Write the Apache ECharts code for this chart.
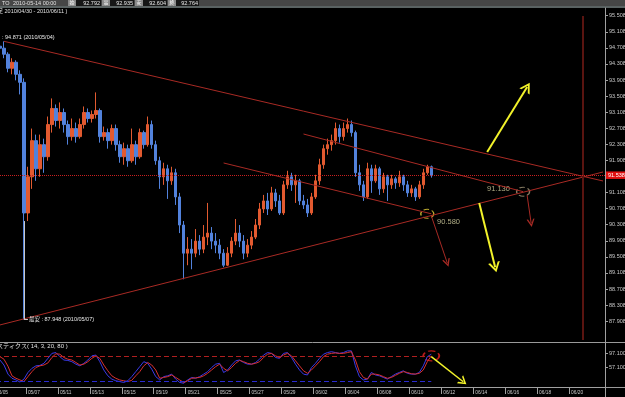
<!DOCTYPE html>
<html>
<head>
<meta charset="utf-8">
<script src="https://cdn.jsdelivr.net/npm/echarts@6/dist/echarts.min.js"></script>
<style>
  html, body { margin: 0; padding: 0; background: #000; }
  #chart { width: 625px; height: 397px; }
</style>
</head>
<body>
<div id="chart"></div>
<script>
// 4 bars per trading day, a date label every 2 days
const BARS_PER_DAY = 4;
const TOTAL_BARS = 153;
const dayLabels = ['05/05', '05/07', '05/11', '05/13', '05/15', '05/19', '05/21', '05/25', '05/27', '05/29',
  '06/02', '06/04', '06/08', '06/10', '06/12', '06/14', '06/16', '06/18', '06/20'];

const priceTicks = [95.508, 95.108, 94.708, 94.308, 93.908, 93.508, 93.108, 92.708, 92.308, 91.908,
  91.508, 91.108, 90.708, 90.308, 89.908, 89.508, 89.108, 88.708, 88.308, 87.908];

const headerLabels = ['始', '高', '安', '終'];
const headerValues = ['92.792', '92.935', '92.604', '92.764'];

// [open, close, low, high]
const ohlc = [
  [94.60, 94.75, 94.52, 94.82], [94.75, 94.70, 94.58, 94.85], [94.70, 94.55, 94.45, 94.87], [94.55, 94.20, 94.10, 94.60],
  [94.20, 94.35, 94.05, 94.45], [94.35, 94.05, 93.90, 94.40], [94.05, 93.85, 93.55, 94.15], [93.85, 90.60, 87.95, 93.95],
  [90.60, 91.50, 90.40, 91.75], [91.50, 92.40, 91.20, 92.70], [92.40, 91.70, 91.40, 92.55], [91.70, 92.30, 91.50, 92.55],
  [92.30, 92.00, 91.60, 92.45], [92.00, 92.80, 91.90, 93.00], [92.80, 93.20, 92.60, 93.45], [93.20, 92.90, 92.75, 93.30],
  [92.90, 93.10, 92.70, 93.35], [93.10, 92.80, 92.60, 93.20], [92.80, 92.50, 92.30, 92.90], [92.50, 92.70, 92.40, 92.95],
  [92.70, 92.50, 92.35, 92.85], [92.50, 92.80, 92.45, 92.95], [92.80, 93.10, 92.70, 93.25], [93.10, 92.95, 92.85, 93.20],
  [92.95, 93.05, 92.85, 93.15], [93.05, 93.15, 92.95, 93.60], [93.15, 92.50, 92.35, 93.20], [92.50, 92.60, 92.40, 92.75],
  [92.60, 92.40, 92.20, 92.70], [92.40, 92.70, 92.30, 92.80], [92.70, 92.30, 92.15, 92.80], [92.30, 92.00, 91.85, 92.40],
  [92.00, 92.20, 91.80, 92.35], [92.20, 91.90, 91.75, 92.30], [91.90, 92.30, 91.85, 92.70], [92.30, 92.00, 91.80, 92.40],
  [92.00, 92.60, 91.95, 92.70], [92.60, 92.30, 92.20, 92.65], [92.30, 92.80, 92.25, 93.00], [92.80, 92.30, 92.20, 92.90],
  [92.30, 91.90, 91.80, 92.40], [91.90, 91.50, 91.20, 92.00], [91.50, 91.70, 91.30, 91.85], [91.70, 91.40, 90.95, 91.80],
  [91.40, 91.60, 91.30, 91.75], [91.60, 91.00, 90.80, 91.70], [91.00, 90.30, 90.10, 91.10], [90.30, 89.60, 88.95, 90.40],
  [89.60, 89.70, 89.30, 90.00], [89.70, 89.60, 89.20, 89.95], [89.60, 89.90, 89.50, 90.20], [89.90, 89.70, 89.55, 90.05],
  [89.70, 90.00, 89.60, 90.30], [90.00, 90.10, 89.80, 90.85], [90.10, 89.90, 89.70, 90.25], [89.90, 89.80, 89.60, 90.10],
  [89.80, 89.60, 89.45, 89.95], [89.60, 89.30, 89.25, 89.70], [89.30, 89.60, 89.28, 89.75], [89.60, 89.90, 89.50, 90.00],
  [89.90, 90.10, 89.80, 90.45], [90.10, 89.90, 89.75, 90.30], [89.90, 89.60, 89.45, 90.05], [89.60, 89.80, 89.50, 89.95],
  [89.80, 90.00, 89.70, 90.15], [90.00, 90.30, 89.95, 90.45], [90.30, 90.70, 90.20, 90.85], [90.70, 90.90, 90.60, 91.05],
  [90.90, 90.70, 90.55, 91.10], [90.70, 91.10, 90.65, 91.25], [91.10, 90.90, 90.75, 91.20], [90.90, 90.60, 90.55, 91.05],
  [90.60, 91.30, 90.55, 91.40], [91.30, 91.50, 91.20, 91.65], [91.50, 91.30, 91.15, 91.60], [91.30, 91.40, 90.85, 91.55],
  [91.40, 90.90, 90.80, 91.45], [90.90, 90.80, 90.70, 91.05], [90.80, 90.60, 90.50, 90.95], [90.60, 91.00, 90.55, 91.10],
  [91.00, 91.40, 90.95, 91.55], [91.40, 91.80, 91.30, 91.95], [91.80, 92.20, 91.70, 92.30], [92.20, 92.30, 92.05, 92.45],
  [92.30, 92.40, 92.15, 92.55], [92.40, 92.70, 92.30, 92.85], [92.70, 92.50, 92.35, 92.80], [92.50, 92.70, 92.40, 92.85],
  [92.70, 92.80, 92.60, 92.95], [92.80, 92.60, 92.50, 92.90], [92.60, 91.60, 91.50, 92.65], [91.60, 91.30, 91.15, 91.80],
  [91.30, 91.00, 90.90, 91.40], [91.00, 91.70, 90.95, 91.85], [91.70, 91.40, 91.10, 91.80], [91.40, 91.70, 91.35, 91.80],
  [91.70, 91.20, 91.05, 91.75], [91.20, 91.50, 91.10, 91.60], [91.50, 91.30, 90.90, 91.55], [91.30, 91.45, 91.20, 91.55],
  [91.45, 91.35, 91.20, 91.50], [91.35, 91.50, 91.25, 91.65], [91.50, 91.30, 91.15, 91.55], [91.30, 91.10, 91.00, 91.40],
  [91.10, 91.20, 91.00, 91.30], [91.20, 91.00, 90.90, 91.25], [91.00, 91.30, 90.95, 91.40], [91.30, 91.60, 91.20, 91.70],
  [91.60, 91.75, 91.55, 91.80], [91.75, 91.53, 91.48, 91.78]
];

// stochastics (14, 3, 20, 80)
const stochK = [76, 70, 58, 36, 26, 22, 17, 24, 40, 50, 56, 57, 62, 74, 86, 88, 78, 70, 69, 66,
  60, 56, 62, 70, 80, 82, 66, 46, 32, 24, 20, 18, 16, 20, 30, 42, 54, 66, 62, 48,
  30, 22, 30, 32, 36, 24, 16, 14, 22, 28, 26, 30, 36, 42, 52, 60, 62, 40, 46, 58,
  68, 70, 64, 60, 60, 64, 72, 82, 88, 86, 76, 74, 86, 88, 76, 60, 46, 36, 34, 52,
  62, 74, 84, 88, 90, 88, 86, 88, 92, 92, 56, 30, 22, 24, 40, 34, 32, 28, 24, 30,
  36, 40, 44, 38, 36, 36, 40, 56, 78, 84];
const stochD = [80, 78, 72, 55, 32, 26, 22, 18, 30, 42, 52, 56, 58, 63, 76, 85, 84, 76, 72, 70,
  64, 58, 60, 66, 74, 80, 74, 58, 44, 32, 26, 22, 20, 18, 21, 32, 42, 56, 64, 58,
  46, 26, 28, 30, 34, 28, 22, 16, 20, 26, 27, 28, 32, 38, 46, 54, 60, 50, 44, 52,
  62, 69, 66, 62, 60, 62, 66, 76, 84, 86, 80, 76, 82, 86, 80, 68, 56, 44, 38, 46,
  56, 66, 78, 84, 86, 87, 86, 86, 88, 90, 70, 42, 28, 24, 36, 36, 34, 30, 26, 28,
  33, 38, 42, 40, 37, 36, 38, 46, 66, 80];
const stochTicks = [86.9, 53.2];
const stochTickText = ['97.100', '57.100'];

const lastPrice = 91.538;
const highNote = [1.2, 94.871, ': 94.871 (2010/05/04)'];
const lowNote = [7, 87.948, '最安 : 87.948 (2010/05/07)'];

// [barIndex, price] end points
const trendLines = [
  [[2, 94.871], [151.75, 91.396]],
  [[0, 87.789], [151.75, 91.620]],
  [[57, 91.844], [108.5, 90.58]],
  [[76.5, 92.565], [132.25, 91.13]]
];
const cycleLine = [[147, 95.5], [147, 87.44]];
const bigArrows = [
  [[122.75, 92.118], [132.75, 93.734]],
  [[120.5, 90.849], [125.25, 89.249]]
];
const smallArrows = [
  [[108.5, 90.53], [113, 89.356]],
  [[132.5, 91.04], [134.25, 90.35]]
];
const targets = [[108, 90.58, '90.580'], [132.25, 91.13, '91.130']];
const stochTarget = [109, 80];
const stochArrow = [[109, 78], [116.5, 17.6]];

(function() {
  const chart = echarts.init(document.getElementById('chart'));
  const FONT = "'Liberation Sans', 'Noto Sans CJK JP', sans-serif";
  const CHEVRON = 'path://M0,10L5,0L10,10L8.2,10L5,3.6L1.8,10Z';
  const RED = '#a82a24';
  const STEP = BARS_PER_DAY * 2;

  const cats = [];
  for (let i = 0; i < TOTAL_BARS; i++) {
    cats.push(i % STEP === 0 && dayLabels[i / STEP] ? dayLabels[i / STEP] : String(i));
  }
  const labelEvery = (i) => i % STEP === 0 && i / STEP < dayLabels.length;

  const segment = (pair, style, endSymbol, endSize) => [
    { coord: pair[0], symbol: 'none', lineStyle: style },
    { coord: pair[1], symbol: endSymbol || 'none', symbolSize: endSize || 0 }
  ];

  const mainLines = []
    .concat(trendLines.map(p => segment(p, { color: RED, width: 1, type: 'solid' })))
    .concat([segment(cycleLine, { color: '#5a1410', width: 2, type: 'solid' })])
    .concat(bigArrows.map(p => segment(p, { color: '#f2f22a', width: 2, type: 'solid' }, CHEVRON, [12, 10])))
    .concat(smallArrows.map(p => segment(p, { color: '#a82a24', width: 1, type: 'solid' }, CHEVRON, [8, 8])))
    .concat([
      segment([[lowNote[0], 90.4], [lowNote[0], lowNote[1]]], { color: '#c8c8c8', width: 1, type: 'solid' }),
      segment([[lowNote[0], lowNote[1]], [lowNote[0] + 1, lowNote[1]]], { color: '#c8c8c8', width: 1, type: 'solid' }),
      segment([[0.4, highNote[1]], [1.1, highNote[1]]], { color: '#c8c8c8', width: 1, type: 'solid' })
    ]);
  mainLines.push({
    yAxis: lastPrice,
    symbol: 'none',
    lineStyle: { color: '#c82020', width: 1, type: 'dotted' },
    label: {
      show: true, position: 'end', distance: 1, formatter: lastPrice.toFixed(3),
      backgroundColor: '#e01010', color: '#fff', fontSize: 5.5, fontFamily: FONT, padding: [1, 2]
    }
  });

  const headerGraphics = [
    { type: 'rect', shape: { x: 0, y: 0, width: 625, height: 6 }, style: { fill: '#464646' } },
    { type: 'rect', shape: { x: 0, y: 6, width: 625, height: 2 }, style: { fill: '#5a6262' } },
    { type: 'text', x: 2, y: 3, style: { text: 'TO', fill: '#e0e0e0', font: '5.5px ' + FONT, verticalAlign: 'middle' } },
    { type: 'text', x: 13, y: 3, style: { text: '2010-05-14 00:00', fill: '#e0e0e0', font: '5.5px ' + FONT, verticalAlign: 'middle' } }
  ];
  const boxStarts = [68, 102, 135, 168];
  headerLabels.forEach((lab, k) => {
    const x = boxStarts[k];
    const next = k < 3 ? boxStarts[k + 1] : 200;
    headerGraphics.push(
      { type: 'rect', shape: { x: x, y: 0, width: 8, height: 6 }, style: { fill: '#8a8a8a' } },
      { type: 'text', x: x + 4, y: 3, style: { text: lab, fill: '#fff', font: '5px ' + FONT, align: 'center', verticalAlign: 'middle' } },
      { type: 'rect', shape: { x: x + 8, y: 0, width: next - x - 9, height: 6 }, style: { fill: '#161616' } },
      { type: 'text', x: next - 2, y: 3, style: { text: headerValues[k], fill: '#e8e8e8', font: '5.5px ' + FONT, align: 'right', verticalAlign: 'middle' } }
    );
  });

  const option = {
    backgroundColor: '#000',
    animation: false,
    textStyle: { fontFamily: FONT },
    grid: [
      { left: -6, right: 20, top: 8, bottom: 55, outerBoundsMode: 'none', containLabel: false },
      { left: -6, right: 20, top: 343, bottom: 10, outerBoundsMode: 'none', containLabel: false }
    ],
    xAxis: [
      { type: 'category', gridIndex: 0, data: cats, boundaryGap: true, show: false },
      {
        type: 'category', gridIndex: 1, data: cats, boundaryGap: true,
        axisLine: { show: true, lineStyle: { color: '#a0a0a0' } },
        axisTick: { show: true, interval: labelEvery, length: 7, lineStyle: { color: '#a0a0a0' } },
        axisLabel: { interval: labelEvery, align: 'left', color: '#c8c8c8', fontSize: 4.8, margin: 3 }
      }
    ],
    yAxis: [
      {
        type: 'value', gridIndex: 0, position: 'right', min: 87.39, max: 95.70,
        axisLine: { show: true, lineStyle: { color: '#a0a0a0' } },
        axisTick: { show: true, customValues: priceTicks, length: 3, lineStyle: { color: '#a0a0a0' } },
        axisLabel: { customValues: priceTicks, formatter: v => v.toFixed(3), color: '#c8c8c8', fontSize: 5.5, margin: 4 },
        splitLine: { show: false }
      },
      {
        type: 'value', gridIndex: 1, position: 'right', min: 5, max: 111,
        axisLine: { show: true, lineStyle: { color: '#a0a0a0' } },
        axisTick: { show: true, customValues: stochTicks, length: 3, lineStyle: { color: '#a0a0a0' } },
        axisLabel: {
          customValues: stochTicks,
          formatter: v => stochTickText[stochTicks.indexOf(v)] || '',
          color: '#c8c8c8', fontSize: 5.5, margin: 4
        },
        splitLine: { show: false }
      }
    ],
    series: [
      {
        type: 'candlestick',
        xAxisIndex: 0, yAxisIndex: 0,
        data: ohlc,
        barWidth: 3,
        silent: true,
        itemStyle: {
          color: '#e25a30', color0: '#5282dc',
          borderColor: '#e25a30', borderColor0: '#5282dc', borderWidth: 1
        },
        markLine: {
          silent: true,
          symbol: 'none',
          label: { show: false },
          emphasis: { disabled: true },
          data: mainLines
        },
        markPoint: {
          silent: true,
          symbol: 'circle',
          symbolSize: 0,
          data: [
            { coord: [highNote[0], highNote[1]], label: { show: true, formatter: highNote[2], position: 'right', distance: 2, offset: [0, -4], color: '#e8e8e8', fontSize: 5.5, fontFamily: FONT } },
            { coord: [lowNote[0] + 1, lowNote[1]], label: { show: true, formatter: lowNote[2], position: 'right', distance: 1, color: '#e8e8e8', fontSize: 5.5, fontFamily: FONT } }
          ]
        }
      },
      {
        type: 'scatter',
        xAxisIndex: 0, yAxisIndex: 0,
        silent: true,
        symbol: 'circle',
        symbolSize: [13, 9],
        data: targets.map((t, k) => ({
          value: [t[0], t[1]],
          itemStyle: {
            color: 'rgba(0,0,0,0)',
            borderColor: k === 0 ? '#e8d23a' : '#a89a7a',
            borderWidth: 1.2, borderType: 'dashed'
          },
          label: {
            show: true, formatter: t[2],
            position: k === 0 ? [17, 9] : [-6, 2],
            align: k === 0 ? 'left' : 'right',
            verticalAlign: k === 0 ? 'top' : 'middle',
            color: '#d8d4a4', fontSize: 7.5, fontFamily: FONT
          }
        }))
      },
      {
        type: 'line',
        xAxisIndex: 1, yAxisIndex: 1,
        data: stochK,
        symbol: 'none',
        silent: true,
        lineStyle: { color: '#3a3ae8', width: 1 }
      },
      {
        type: 'line',
        xAxisIndex: 1, yAxisIndex: 1,
        data: stochD,
        symbol: 'none',
        silent: true,
        lineStyle: { color: '#d83030', width: 1 },
        markLine: {
          silent: true,
          symbol: 'none',
          label: { show: false },
          data: [
            segment([[0, 80], [109, 80]], { color: '#b02020', width: 1, type: [5, 3] }),
            segment([[0, 20], [109, 20]], { color: '#2a2ad0', width: 1, type: [5, 3] }),
            segment(stochArrow, { color: '#f2f22a', width: 1.5, type: 'solid' }, CHEVRON, [10, 8])
          ]
        }
      },
      {
        type: 'scatter',
        xAxisIndex: 1, yAxisIndex: 1,
        silent: true,
        symbol: 'circle',
        symbolSize: [16, 10],
        data: [stochTarget],
        itemStyle: { color: 'rgba(0,0,0,0)', borderColor: '#e82020', borderWidth: 1.5, borderType: 'dashed' }
      }
    ],
    graphic: headerGraphics.concat([
      { type: 'text', x: -8, y: 11.5, style: { text: '日足 2010/04/30 - 2010/06/11 )', fill: '#e0e0e0', font: '5.5px ' + FONT, verticalAlign: 'middle' } },
      { type: 'line', shape: { x1: 0, y1: 342.5, x2: 625, y2: 342.5 }, style: { stroke: '#9a9a9a', lineWidth: 1 } },
      { type: 'line', shape: { x1: 0, y1: 387.5, x2: 625, y2: 387.5 }, style: { stroke: '#9a9a9a', lineWidth: 1 } },
      { type: 'line', shape: { x1: 605.5, y1: 8, x2: 605.5, y2: 397 }, style: { stroke: '#a0a0a0', lineWidth: 1 } },
      { type: 'text', x: -27, y: 346.5, style: { text: 'ストキャスティクス( 14, 3, 20, 80 )', fill: '#e0e0e0', font: '6px ' + FONT, verticalAlign: 'middle' } }
    ])
  };

  chart.setOption(option);
  window.addEventListener('resize', () => chart.resize());
})();
</script>
</body>
</html>
